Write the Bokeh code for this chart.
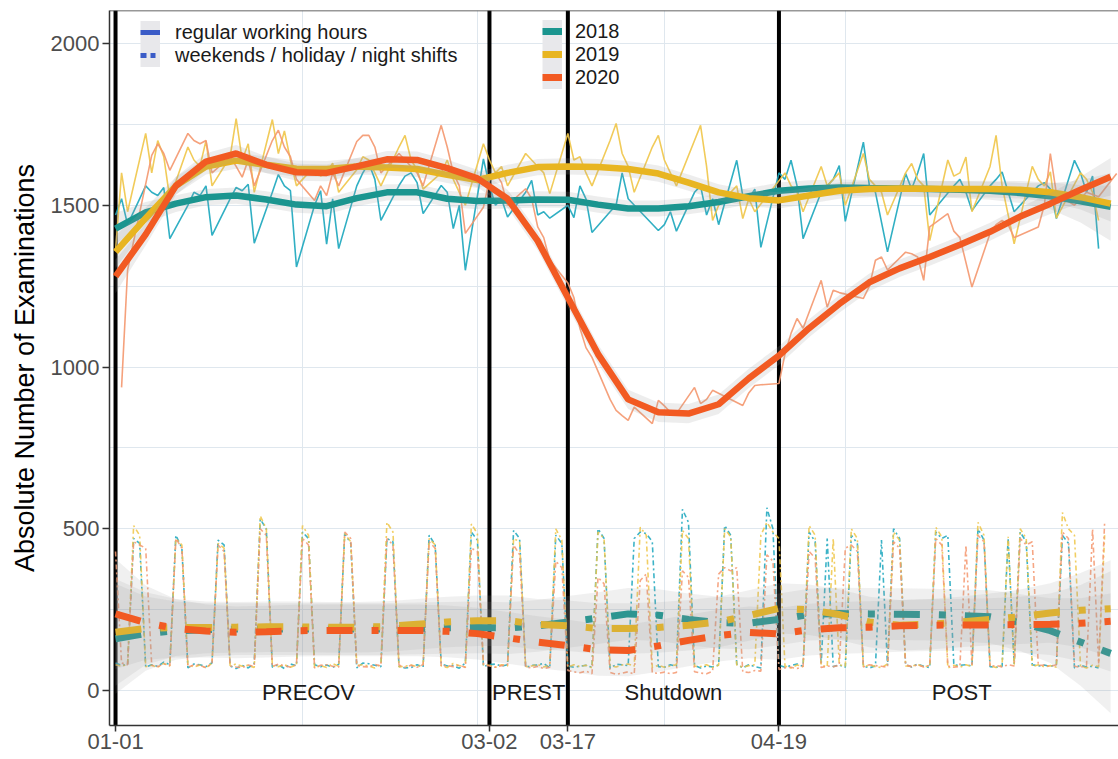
from bokeh.plotting import figure
from bokeh.models import Range1d, FixedTicker, Span, Legend, LegendItem
from bokeh.embed import file_html
from bokeh.resources import INLINE
from bokeh.core.properties import value

FONT = "Liberation Sans"
NAN = float("nan")

# ---------------- data ----------------
years = ["2018", "2019", "2020"]
phase_bounds = [0, 62, 75, 110]            # days since 01-01 (2020 calendar)
tick_labels = ["01-01", "03-02", "03-17", "04-19"]
phase_names = ["PRECOV", "PREST", "Shutdown", "POST"]
phase_label_x = [32, 68.5, 92.5, 140.3]
month_start_days = [31, 60, 91, 121]
workday_offsets = [0, 1, 2, 5, 6]          # Wed, Thu, Fri, Mon, Tue of each week
shift_labels = ["regular working hours", "weekends / holiday / night shifts"]

# regular working hours: one row per week [Wed, Thu, Fri, Mon, Tue]; None = public holiday
regular_2018 = [
    [1470, 1520, 1440, 1560, 1540], [1530, 1555, 1397, 1500, 1540], [1530, 1560, 1407, 1520, 1555],
    [1545, 1565, 1383, 1540, 1595], [1560, 1545, 1309, 1500, 1545], [1380, 1520, 1366, 1560, 1600],
    [1630, 1580, 1453, 1561, 1590], [1600, 1570, 1474, 1561, 1540], [1428, 1500, 1299, 1643, 1560],
    [1500, 1520, 1464, 1540, 1577], [1470, 1480, 1460, 1500, 1462], [1560, 1520, 1416, 1480, 1500],
    [1600, 1520, None, None, 1422], [1440, 1480, 1420, 1540, 1560], [1470, 1520, 1440, 1639, 1530],
    [1520, 1550, 1370, 1600, 1580], [1639, 1560, 1397, 1540, None], [1580, 1623, 1450, 1695, 1560],
    [1540, None, 1356, 1598, 1550], [1600, 1660, 1470, None, 1560], [1580, 1540, 1484, 1560, 1580],
    [1603, None, 1480, 1540, 1560], [1570, 1550, 1459, 1639, 1600], [1540, 1590, 1366],
]
regular_2019 = [
    [1360, 1600, 1480, 1722, 1600], [1700, 1650, 1520, 1680, 1640], [1620, 1700, 1560, 1650, 1768],
    [1640, 1690, 1540, 1765, 1660], [1730, 1640, 1560, 1620, 1590], [1600, 1630, 1540, 1610, 1650],
    [1640, 1600, 1560, 1680, 1716], [1640, 1610, 1550, 1600, 1640], [1580, 1540, 1500, 1690, 1640],
    [1600, 1620, 1560, 1660, 1640], [1620, 1600, 1536, 1722, 1640], [1650, 1600, 1560, 1700, 1753],
    [1660, 1620, 1540, 1680, 1716], [1640, 1600, 1560, 1700, 1747], [1620, 1453, 1500, 1560, 1459],
    [1520, 1480, None, None, 1600], [1560, 1540, 1480, 1620, 1560], [None, 1600, 1500, 1660, 1580],
    [1560, 1540, 1470, 1600, 1629], [1580, 1560, 1391, 1640, 1590], [1600, 1649, 1480, 1620, 1716],
    [1560, None, 1381, 1620, 1580], [1560, 1603, 1460, None, 1600], [1580, 1540, 1453],
]
regular_2020 = [
    [None, 937, 1300, None, 1654], [1690, 1660, 1608, 1722, 1700], [1690, 1700, 1600, 1650, 1620],
    [1587, 1640, 1560, 1700, 1732], [1680, 1650, 1580, 1515, 1560], [1530, 1600, 1560, 1697, 1716],
    [1716, 1680, 1600, 1660, 1640], [1620, 1600, 1560, 1747, 1680], [1600, 1560, 1413, 1494, 1580],
    [1600, 1570, 1500, 1551, 1520], [1433, 1400, 1330, 1260, 1215], [1120, 1060, 1030, 900, 866],
    [850, 835, 876, 825, 897], [880, 860, 856, 937, 887], [900, 928, None, None, 881],
    [920, 943, 945, 949, 1040], [1104, 1150, 1120, 1268, 1185], [1237, 1230, None, 1212, 1250],
    [1330, 1340, 1300, 1355, 1350], [1340, 1268, 1433, 1474, 1420], [1400, None, 1247, 1413, 1440],
    [1453, 1440, 1400, None, 1433], [1500, 1660, 1536, 1500, 1520], [1540, None, 1526, 1598],
]

# weekends / holiday / night shifts: one value per day from 01-01
weekend_2018 = [
    85, 78, 80, 470, 455, 72, 80, 75, 88, 80, 480, 440, 70, 82, 80, 74, 86, 465, 450, 76, 68,
    78, 70, 84, 530, 500, 72, 80, 68, 82, 77, 490, 470, 80, 74, 79, 72, 81, 485, 455, 70, 85,
    83, 78, 74, 470, 460, 75, 70, 71, 80, 73, 480, 450, 82, 76, 77, 69, 85, 490, 465, 74, 80,
    82, 75, 80, 495, 470, 71, 78, 79, 84, 70, 480, 455, 76, 72, 75, 78, 72, 500, 470, 69, 81,
    80, 77, 470, 490, 485, 460, 74, 72, 80, 75, 560, 520, 78, 70, 76, 73, 79, 510, 480, 82, 70,
    80, 74, 70, 565, 500, 78, 72, 77, 82, 75, 490, 460, 80, 470, 74, 79, 72, 480, 455, 76, 70,
    76, 465, 78, 500, 470, 80, 73, 82, 75, 71, 490, 470, 480, 79, 78, 80, 76, 500, 465, 74, 72,
    75, 470, 82, 490, 460, 80, 76, 79, 74, 81, 480, 455, 70, 78, 73, 75, 70,
]
weekend_2019 = [
    80, 75, 82, 510, 480, 74, 78, 72, 84, 76, 470, 450, 80, 73, 79, 70, 85, 455, 440, 77, 82,
    75, 78, 71, 540, 500, 76, 74, 80, 72, 79, 510, 480, 70, 77, 71, 83, 75, 485, 460, 78, 80,
    76, 70, 82, 520, 490, 73, 75, 79, 74, 80, 470, 450, 76, 71, 84, 77, 73, 515, 485, 80, 78,
    72, 80, 76, 470, 460, 74, 76, 81, 73, 79, 500, 465, 72, 80, 74, 78, 70, 490, 470, 77, 73,
    79, 82, 75, 505, 480, 71, 78, 72, 76, 80, 495, 470, 75, 74, 80, 71, 78, 500, 475, 79, 72,
    77, 80, 480, 520, 490, 470, 76, 70, 79, 74, 510, 480, 78, 73, 470, 80, 75, 500, 470, 72, 79,
    74, 71, 82, 490, 465, 76, 75, 80, 73, 77, 505, 475, 70, 78, 72, 80, 74, 520, 480, 76, 71,
    79, 475, 78, 500, 470, 74, 80, 73, 77, 72, 550, 500, 480, 75, 70, 78, 74, 480,
]
weekend_2020 = [
    430, 85, 80, 460, 450, 440, 78, 74, 82, 77, 470, 440, 72, 80, 78, 70, 84, 450, 430, 76, 73,
    71, 79, 75, 500, 480, 74, 82, 76, 73, 80, 470, 450, 70, 78, 80, 75, 72, 490, 470, 77, 74,
    73, 81, 76, 470, 450, 79, 72, 78, 72, 80, 460, 440, 75, 77, 74, 79, 71, 440, 430, 80, 76,
    72, 77, 81, 450, 420, 73, 70, 75, 68, 72, 400, 380, 62, 58, 55, 60, 52, 350, 330, 56, 50,
    54, 58, 51, 340, 360, 55, 53, 57, 52, 56, 370, 350, 58, 54, 52, 60, 360, 380, 370, 380, 58,
    56, 62, 60, 420, 400, 65, 70, 72, 68, 75, 430, 410, 71, 76, 74, 78, 440, 450, 430, 73, 80,
    77, 75, 72, 460, 440, 79, 74, 80, 73, 78, 470, 450, 76, 72, 75, 450, 79, 480, 460, 74, 78,
    73, 80, 76, 470, 450, 460, 77, 79, 74, 80, 490, 470, 75, 72, 78, 500, 82, 520,
]

# smoothed trends (loess) and their standard-error half widths, every 5 days
smooth_days = [0, 5, 10, 15, 20, 25, 30, 35, 40, 45, 50, 55, 60, 65, 70, 75, 80,
               85, 90, 95, 100, 105, 110, 115, 120, 125, 130, 135, 140, 145, 150, 155, 160, 165]
reg_smooth_2018 = [1428, 1478, 1505, 1525, 1530, 1518, 1502, 1497, 1522, 1540, 1540, 1520, 1513, 1515, 1518, 1517, 1502,
                   1490, 1490, 1497, 1510, 1528, 1545, 1552, 1555, 1553, 1552, 1550, 1548, 1545, 1538, 1528, 1512, 1495]
reg_se_2018 = [48, 32, 26, 25, 25, 25, 25, 25, 25, 25, 25, 25, 25, 25, 25, 25, 25,
               25, 25, 25, 25, 25, 25, 25, 25, 25, 25, 25, 26, 28, 31, 40, 65, 105]
reg_smooth_2019 = [1356, 1460, 1560, 1620, 1638, 1625, 1613, 1612, 1620, 1617, 1612, 1594, 1578, 1600, 1618, 1620, 1618,
                   1612, 1598, 1570, 1540, 1522, 1515, 1530, 1545, 1550, 1552, 1551, 1550, 1550, 1548, 1540, 1525, 1505]
reg_se_2019 = [50, 33, 27, 25, 25, 25, 25, 25, 25, 25, 25, 25, 25, 25, 25, 25, 25,
               25, 25, 25, 25, 25, 25, 25, 25, 25, 25, 25, 25, 26, 27, 30, 38, 55]
reg_smooth_2020 = [1280, 1410, 1560, 1635, 1660, 1625, 1602, 1600, 1620, 1642, 1640, 1615, 1583, 1520, 1390, 1215, 1040,
                   900, 860, 856, 885, 965, 1035, 1120, 1195, 1262, 1305, 1340, 1378, 1418, 1465, 1505, 1548, 1588]
reg_se_2020 = [52, 34, 28, 26, 26, 26, 26, 26, 26, 26, 26, 26, 27, 28, 29, 30, 30,
               30, 30, 30, 30, 30, 29, 28, 27, 27, 27, 27, 27, 28, 29, 32, 40, 58]
wk_smooth_2018 = [160, 176, 185, 188, 190, 190, 190, 190, 190, 190, 192, 194, 195, 193, 200, 212, 224,
                  237, 233, 220, 210, 208, 220, 235, 238, 237, 236, 235, 232, 228, 210, 185, 150, 115]
wk_se_2018 = [170, 115, 90, 82, 80, 80, 80, 80, 80, 80, 80, 80, 80, 80, 80, 80, 80,
              80, 80, 80, 80, 80, 80, 80, 80, 80, 80, 80, 80, 82, 88, 100, 135, 185]
wk_smooth_2019 = [180, 192, 195, 195, 196, 197, 197, 196, 196, 198, 205, 212, 216, 216, 205, 200, 192,
                  192, 195, 202, 212, 232, 254, 250, 235, 212, 202, 205, 212, 220, 228, 240, 248, 253]
wk_se_2019 = [165, 112, 88, 80, 78, 78, 78, 78, 78, 78, 78, 78, 78, 78, 78, 78, 78,
              78, 78, 78, 78, 78, 78, 78, 78, 78, 78, 78, 78, 80, 84, 92, 115, 150]
wk_smooth_2020 = [237, 210, 192, 184, 180, 182, 185, 186, 186, 186, 186, 183, 176, 163, 150, 139, 126,
                  124, 138, 155, 170, 180, 175, 188, 194, 196, 200, 202, 203, 203, 204, 205, 208, 214]
wk_se_2020 = [170, 115, 90, 82, 80, 80, 80, 80, 80, 80, 80, 80, 80, 80, 80, 80, 80,
              80, 80, 80, 80, 80, 80, 80, 80, 80, 80, 80, 80, 82, 86, 95, 118, 155]

# ---------------- styles ----------------
smooth_colors = {"2018": "#1b958f", "2019": "#e8b521", "2020": "#f25a22"}
thin_colors = {"2018": "#1aa6bd", "2019": "#efc548", "2020": "#f4976e"}
key_blue = "#3b5cc7"
grid_color = "#dfe7ee"
axis_color = "#333333"


def workday_series(rows):
    xs, ys = [], []
    for week, row in enumerate(rows):
        for off, v in zip(workday_offsets, row):
            if v is not None:
                xs.append(7 * week + off)
                ys.append(v)
    return xs, ys


regular = {"2018": regular_2018, "2019": regular_2019, "2020": regular_2020}
weekend = {"2018": weekend_2018, "2019": weekend_2019, "2020": weekend_2020}
reg_smooth = {"2018": (reg_smooth_2018, reg_se_2018), "2019": (reg_smooth_2019, reg_se_2019),
              "2020": (reg_smooth_2020, reg_se_2020)}
wk_smooth = {"2018": (wk_smooth_2018, wk_se_2018), "2019": (wk_smooth_2019, wk_se_2019),
             "2020": (wk_smooth_2020, wk_se_2020)}

p = figure(width=1118, height=759, output_backend="svg", toolbar_location=None,
           x_range=Range1d(-1.0, 166.3), y_range=Range1d(-108, 2102),
           min_border_left=109, min_border_right=0, min_border_top=10, min_border_bottom=34)
p.background_fill_color = "white"
p.border_fill_color = "white"
p.outline_line_color = None

# axes
p.yaxis.ticker = FixedTicker(ticks=[0, 500, 1000, 1500, 2000], minor_ticks=[250, 750, 1250, 1750])
p.xaxis.ticker = FixedTicker(ticks=phase_bounds)
p.xaxis.major_label_overrides = {b: lab for b, lab in zip(phase_bounds, tick_labels)}
for ax in (p.xaxis, p.yaxis):
    ax.axis_line_color = axis_color
    ax.axis_line_width = 1.5
    ax.major_tick_line_color = axis_color
    ax.major_tick_line_width = 1.5
    ax.major_tick_in = 0
    ax.major_tick_out = 6
    ax.minor_tick_line_color = None
    ax.major_label_text_font = FONT
    ax.major_label_text_font_size = "22px"
    ax.major_label_text_color = "#4d4d4d"
    ax.major_label_standoff = 2
p.yaxis.major_tick_out = 7
p.yaxis.major_label_standoff = 3
p.yaxis.axis_label = "Absolute Number of Examinations"
p.yaxis.axis_label_text_font = FONT
p.yaxis.axis_label_text_font_size = "27px"
p.yaxis.axis_label_text_font_style = "normal"
p.yaxis.axis_label_text_color = "#000000"
p.yaxis.axis_label_standoff = 8

# grid
p.xgrid.ticker = FixedTicker(ticks=month_start_days)
p.xgrid.grid_line_color = grid_color
p.ygrid.grid_line_color = grid_color
p.ygrid.minor_grid_line_color = grid_color

# panel top border
p.add_layout(Span(location=2102, dimension="width", line_color=axis_color, line_width=1.5))

# phase boundaries
for b in phase_bounds:
    p.add_layout(Span(location=b, dimension="height", line_color="black", line_width=4, level="underlay"))

# thin daily lines
for y in years:
    xs, ys = workday_series(regular[y])
    p.line(xs, ys, line_color=thin_colors[y], line_width=1.6, line_alpha=0.9)
for y in years:
    vals = weekend[y]
    p.line(list(range(len(vals))), vals, line_color=thin_colors[y], line_width=1.6,
           line_alpha=0.85, line_dash="5 3 2 3")

# smoothed trends with confidence bands
for y in years:
    m, se = reg_smooth[y]
    p.varea(x=smooth_days, y1=[a - b for a, b in zip(m, se)], y2=[a + b for a, b in zip(m, se)],
            fill_color="#999999", fill_alpha=0.18)
    p.line(smooth_days, m, line_color=smooth_colors[y], line_width=6.5)
for y in years:
    m, se = wk_smooth[y]
    p.varea(x=smooth_days, y1=[a - b for a, b in zip(m, se)], y2=[a + b for a, b in zip(m, se)],
            fill_color="#999999", fill_alpha=0.15)
    p.line(smooth_days, m, line_color=smooth_colors[y], line_width=7, line_dash="26 19 7 19")

# phase labels
p.text(x=phase_label_x, y=[-5] * len(phase_names), text=phase_names, text_font=value(FONT),
       text_font_size="22px", text_align="center", text_baseline="middle", text_color="#1a1a1a")

# legends: one single-row legend per entry so rows can sit close together
key_bg = p.line([NAN], [NAN], line_color="#e8e8eb", line_width=23)
key_solid = p.line([NAN], [NAN], line_color=key_blue, line_width=5)
key_dash = p.line([NAN], [NAN], line_color=key_blue, line_width=5, line_dash="6 4 5 5")
year_keys = {y: p.line([NAN], [NAN], line_color=smooth_colors[y], line_width=7) for y in years}


def add_legend_row(label, key, loc, standoff):
    leg = Legend(items=[LegendItem(label=label, renderers=[key_bg, key])], location=loc,
                 orientation="vertical", glyph_width=20, glyph_height=26, label_height=20,
                 label_standoff=standoff, spacing=0, padding=0, margin=0, border_line_color=None,
                 background_fill_alpha=0, label_text_font=FONT, label_text_font_size="20px",
                 label_text_color="#1a1a1a")
    p.add_layout(leg)


add_legend_row(shift_labels[0], key_solid, (31, 680), 15)
add_legend_row(shift_labels[1], key_dash, (31, 657), 15)
for y, ly in zip(years, [681, 658, 635]):
    add_legend_row(y, year_keys[y], (433, ly), 13)

open("out.html", "w").write(file_html(p, INLINE))
